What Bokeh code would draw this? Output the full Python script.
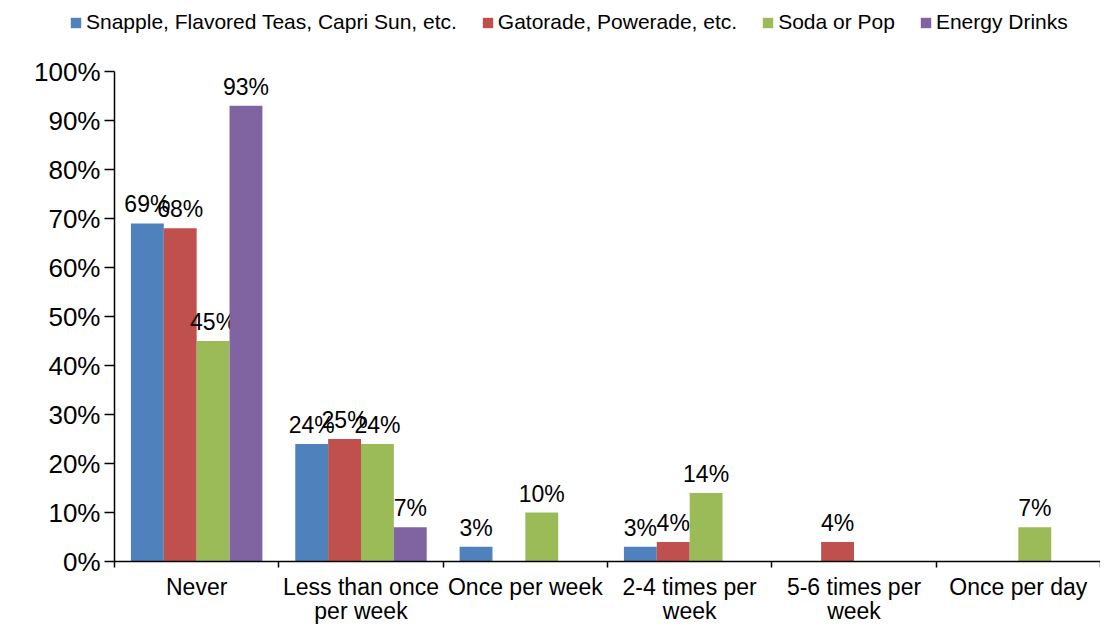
from bokeh.plotting import figure
from bokeh.models import Range1d, FixedTicker, ColumnDataSource, Legend, LegendItem
from bokeh.transform import dodge
from bokeh.core.properties import value
from bokeh.embed import file_html
from bokeh.resources import INLINE

categories = ["Never", "Less than once\nper week", "Once per week",
              "2-4 times per\nweek", "5-6 times per\nweek", "Once per day"]
series_names = ["Snapple, Flavored Teas, Capri Sun, etc.", "Gatorade, Powerade, etc.",
                "Soda or Pop", "Energy Drinks"]
snapple = [69, 24, 3, 3, 0, 0]
gatorade = [68, 25, 0, 4, 4, 0]
soda = [45, 24, 10, 14, 0, 7]
energy = [93, 7, 0, 0, 0, 0]
y_ticks = [0, 0.1, 0.2, 0.3, 0.4, 0.5, 0.6, 0.7, 0.8, 0.9, 1.0]
y_tick_labels = ["0%", "10%", "20%", "30%", "40%", "50%", "60%", "70%", "80%", "90%", "100%"]

colors = ["#4F81BD", "#C0504D", "#9BBB59", "#8064A2"]
offsets = [-0.3, -0.1, 0.1, 0.3]
FONT = "Liberation Sans"

W, H = 1100, 628
AX_LEFT, AX_BOTTOM, AX_TOP = 114, 561, 71   # pixel placement of the axes inside the figure
n = len(categories)
px_x = (W - AX_LEFT) / n
px_y = (AX_BOTTOM - AX_TOP) / 1.0

centers = [i + 0.5 for i in range(n)]
boundaries = [i for i in range(n + 1)]

p = figure(width=W, height=H, output_backend="svg", toolbar_location=None,
           x_range=Range1d(-AX_LEFT / px_x, n),
           y_range=Range1d(-(H - AX_BOTTOM) / px_y, 1 + AX_TOP / px_y),
           min_border=0, min_border_left=0, min_border_top=0, min_border_bottom=0,
           min_border_right=0, outline_line_color=None,
           background_fill_color="white", border_fill_color="white")
p.title.visible = False
p.xgrid.visible = False
p.ygrid.visible = False

items = []
for name, vals, col, off in zip(series_names, [snapple, gatorade, soda, energy], colors, offsets):
    src = ColumnDataSource(dict(x=centers, top=[v / 100 for v in vals]))
    r = p.vbar(x=dodge("x", off), top="top", bottom=0, width=0.2, source=src,
               fill_color=col, line_color=None)
    items.append(LegendItem(label=name, renderers=[r]))
    lx = [c for c, v in zip(centers, vals) if v > 0]
    ly = [v / 100 for v in vals if v > 0]
    lt = ["%d%%" % v for v in vals if v > 0]
    lsrc = ColumnDataSource(dict(x=lx, y=ly, t=lt))
    p.text(x=dodge("x", off), y="y", text="t", source=lsrc, text_align="center",
           text_baseline="bottom", y_offset=-6, text_font=value(FONT),
           text_font_size="23px", text_color="black")

legend = Legend(items=items, orientation="horizontal", location=(69, H - 34),
                border_line_color=None, background_fill_alpha=0, padding=0, margin=0,
                spacing=24, glyph_width=13, glyph_height=13, label_standoff=4,
                label_text_font=FONT, label_text_font_size="21px", label_height=22,
                label_text_color="black", label_text_baseline="middle")
p.add_layout(legend)

ya = p.yaxis[0]
ya.fixed_location = 0
ya.bounds = (0, 1)
ya.ticker = FixedTicker(ticks=y_ticks)
ya.major_label_overrides = {t: l for t, l in zip(y_ticks, y_tick_labels)}
ya.major_tick_out = 10
ya.major_tick_in = 0
ya.minor_tick_out = 0
ya.minor_tick_in = 0
ya.major_label_standoff = 4
ya.major_label_text_font = FONT
ya.major_label_text_font_size = "26px"
ya.major_label_text_color = "black"
ya.axis_line_color = "black"
ya.axis_line_width = 1.5
ya.major_tick_line_width = 1.5

xa = p.xaxis[0]
xa.fixed_location = 0
xa.bounds = (0, n)
xa.ticker = FixedTicker(ticks=centers, minor_ticks=boundaries)
xa.major_label_overrides = {c: l for c, l in zip(centers, categories)}
xa.major_tick_out = 0
xa.major_tick_in = 0
xa.minor_tick_out = 6
xa.minor_tick_in = 0
xa.minor_tick_line_color = "black"
xa.minor_tick_line_width = 1.5
xa.major_label_standoff = 6
xa.major_label_text_font = FONT
xa.major_label_text_font_size = "23px"
xa.major_label_text_line_height = 0.95
xa.major_label_text_color = "black"
xa.axis_line_color = "black"
xa.axis_line_width = 1.5

open("out.html", "w").write(file_html(p, INLINE))
